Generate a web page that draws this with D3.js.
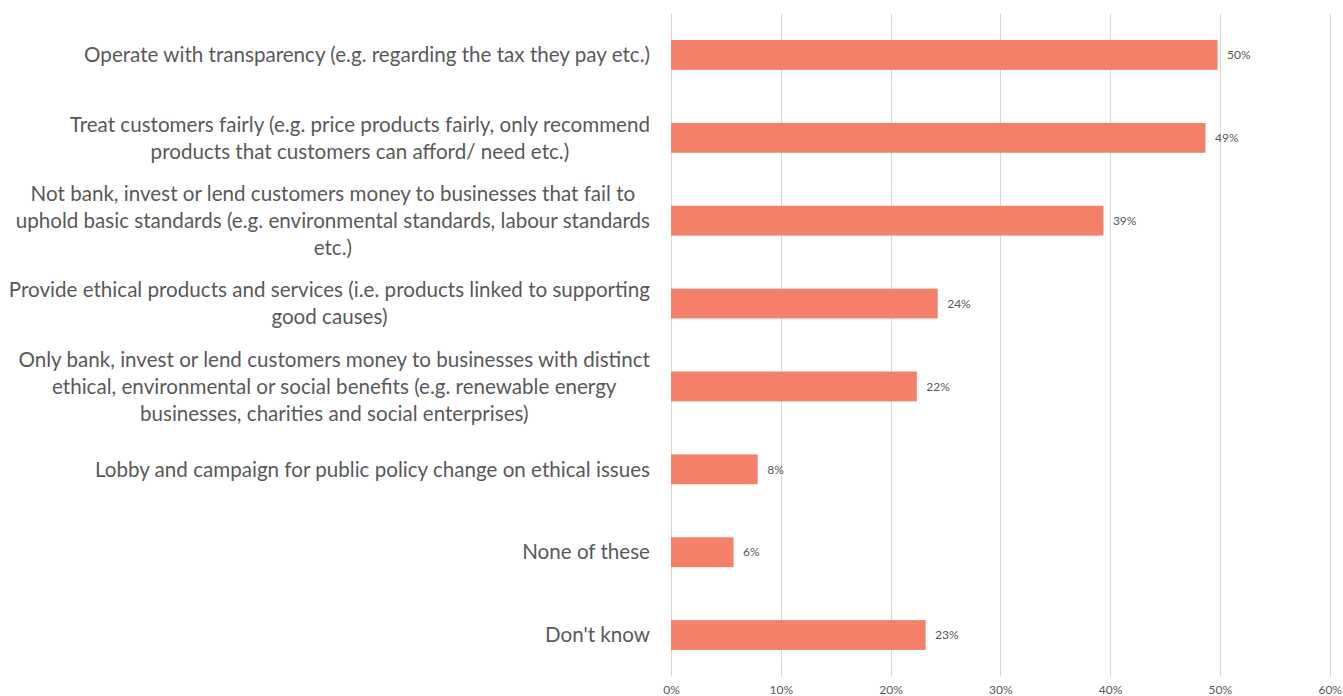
<!DOCTYPE html>
<html>
<head>
<meta charset="utf-8">
<script src="https://cdn.jsdelivr.net/npm/d3@7"></script>
<style>
  html, body { margin: 0; padding: 0; background: #ffffff; }
  svg { display: block; }
</style>
</head>
<body>
<svg id="chart" width="1343" height="696"></svg>
<script>
// Survey answers, one per row (line breaks mark where each label wraps)
const categories = [
  "Operate with transparency (e.g. regarding the tax they pay etc.)",
  "Treat customers fairly (e.g. price products fairly, only recommend\nproducts that customers can afford/ need etc.)",
  "Not bank, invest or lend customers money to businesses that fail to\nuphold basic standards (e.g. environmental standards, labour standards\netc.)",
  "Provide ethical products and services (i.e. products linked to supporting\ngood causes)",
  "Only bank, invest or lend customers money to businesses with distinct\nethical, environmental or social benefits (e.g. renewable energy\nbusinesses, charities and social enterprises)",
  "Lobby and campaign for public policy change on ethical issues",
  "None of these",
  "Don't know"
];

// Share of respondents choosing each answer
const values = [0.498, 0.487, 0.394, 0.243, 0.224, 0.079, 0.057, 0.232];

// Axis ticks
const tickValues = [0, 0.1, 0.2, 0.3, 0.4, 0.5, 0.6];

const rows = categories.map((c, i) => ({ label: c, value: values[i] }));

const svg = d3.select("#chart");
const plot = { left: 671, right: 1329.5, top: 13.5, bottom: 676.5 };

const x = d3.scaleLinear().domain([0, 0.6]).range([plot.left, plot.right]);
const y = d3.scaleBand()
  .domain(d3.range(rows.length))
  .range([plot.top, plot.bottom])
  .paddingInner(0.64)
  .paddingOuter(0.32);

const textColor = "#595959";
const font = "Lato, 'Open Sans', sans-serif";
const fmt = d3.format(".0%");

// Vertical gridlines
svg.append("g")
  .selectAll("line")
  .data(tickValues)
  .join("line")
  .attr("x1", d => Math.round(x(d)) + 0.5)
  .attr("x2", d => Math.round(x(d)) + 0.5)
  .attr("y1", plot.top)
  .attr("y2", plot.bottom)
  .attr("stroke", "#d9d9d9")
  .attr("stroke-width", 1);

// Bottom axis tick labels
const xAxis = d3.axisBottom(x).tickValues(tickValues).tickFormat(fmt).tickSize(0).tickPadding(0);
const gx = svg.append("g")
  .attr("transform", `translate(0, ${plot.bottom})`)
  .call(xAxis);
gx.select(".domain").remove();
gx.selectAll("text")
  .attr("dy", null)
  .attr("y", 17.5)
  .attr("fill", textColor)
  .style("font-family", font)
  .style("font-size", "12px");
// Keep the right-most tick label inside the drawing area
gx.selectAll(".tick:last-of-type text").attr("text-anchor", "end").attr("x", 12);

// Bars
svg.append("g")
  .selectAll("rect")
  .data(rows)
  .join("rect")
  .attr("x", x(0))
  .attr("y", (d, i) => y(i))
  .attr("width", d => x(d.value) - x(0))
  .attr("height", y.bandwidth())
  .attr("fill", "#f4806a");

// Value labels
svg.append("g")
  .selectAll("text")
  .data(rows)
  .join("text")
  .attr("x", d => x(d.value) + 9.5)
  .attr("y", (d, i) => y(i) + y.bandwidth() / 2)
  .attr("dy", "0.35em")
  .attr("fill", textColor)
  .style("font-family", font)
  .style("font-size", "12px")
  .text(d => fmt(d.value));

// Category labels: wrapped lines centred on each other, block right-aligned at the axis
const lineHeight = 27;
const labelRight = 650;
const labels = svg.append("g")
  .style("font-family", font)
  .style("font-size", "20.6px")
  .attr("fill", textColor);

rows.forEach((d, i) => {
  const lines = d.label.split("\n");
  const cy = y(i) + y.bandwidth() / 2;
  const g = labels.append("g");
  const texts = g.selectAll("text")
    .data(lines)
    .join("text")
    .attr("y", (l, j) => cy + (j - (lines.length - 1) / 2) * lineHeight)
    .attr("dy", "0.35em")
    .attr("text-anchor", "middle")
    .text(l => l);
  const widths = texts.nodes().map(n => n.getComputedTextLength());
  const blockW = d3.max(widths);
  texts.attr("x", labelRight - blockW / 2);
});
</script>
</body>
</html>
